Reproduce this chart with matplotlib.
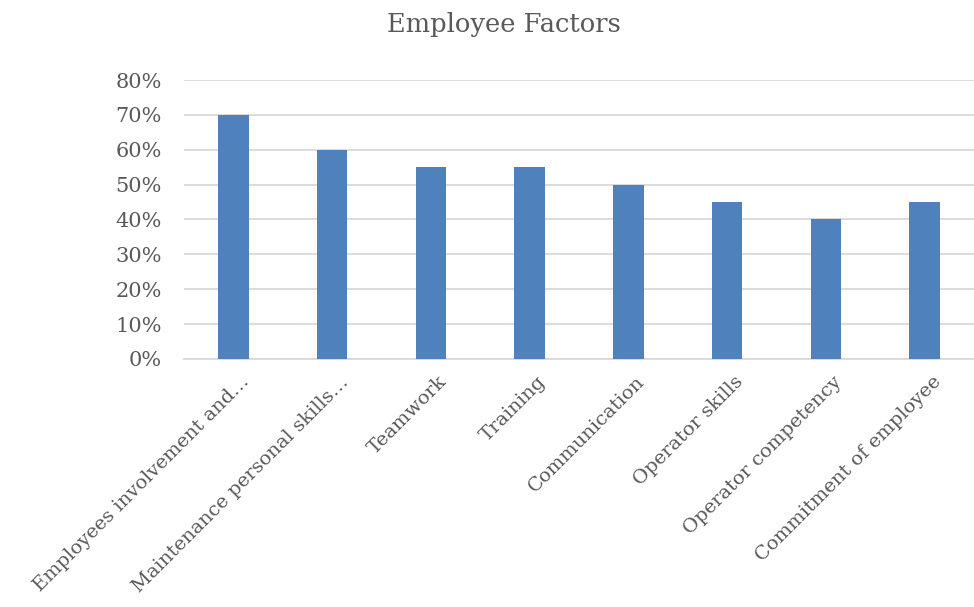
import matplotlib
matplotlib.use("Agg")
import matplotlib.pyplot as plt
from matplotlib.ticker import PercentFormatter

categories = ["Employees involvement and…", "Maintenance personal skills…", "Teamwork",
              "Training", "Communication", "Operator skills", "Operator competency",
              "Commitment of employee"]
values = [70, 60, 55, 55, 50, 45, 40, 45]
yticks = [0, 10, 20, 30, 40, 50, 60, 70, 80]

plt.rcParams['font.family'] = ['DejaVu Serif']
txt = '#595959'

fig = plt.figure(figsize=(9.74, 6.07), dpi=100)
ax = fig.add_axes([0.189, 0.4086, 0.811, 0.4596])
x = list(range(len(categories)))
ax.bar(x, values, width=0.31, color='#4f81bd', zorder=3)
ax.set_xlim(-0.5, len(categories) - 0.5)
ax.set_ylim(0, 80)
ax.set_yticks(yticks)
ax.yaxis.set_major_formatter(PercentFormatter(decimals=0))
ax.grid(axis='y', color='#d9d9d9', linewidth=1.3, zorder=0)
for s in ['top', 'right', 'left']:
    ax.spines[s].set_visible(False)
ax.spines['bottom'].set_color('#d9d9d9')
ax.spines['bottom'].set_linewidth(1.3)
ax.tick_params(axis='both', length=0, colors=txt, labelsize=15)
ax.tick_params(axis='y', pad=16)
ax.set_xticks(x)
ax.set_xticklabels(categories, rotation=45, ha='right', rotation_mode='anchor', fontsize=14)
for lbl in ax.get_xticklabels():
    lbl.set_transform(lbl.get_transform() + matplotlib.transforms.ScaledTranslation(0.07, -0.09, fig.dpi_scale_trans))
fig.suptitle("Employee Factors", y=0.98, x=0.517, fontsize=18.5, color=txt)
fig.savefig("out.png", dpi=100)
